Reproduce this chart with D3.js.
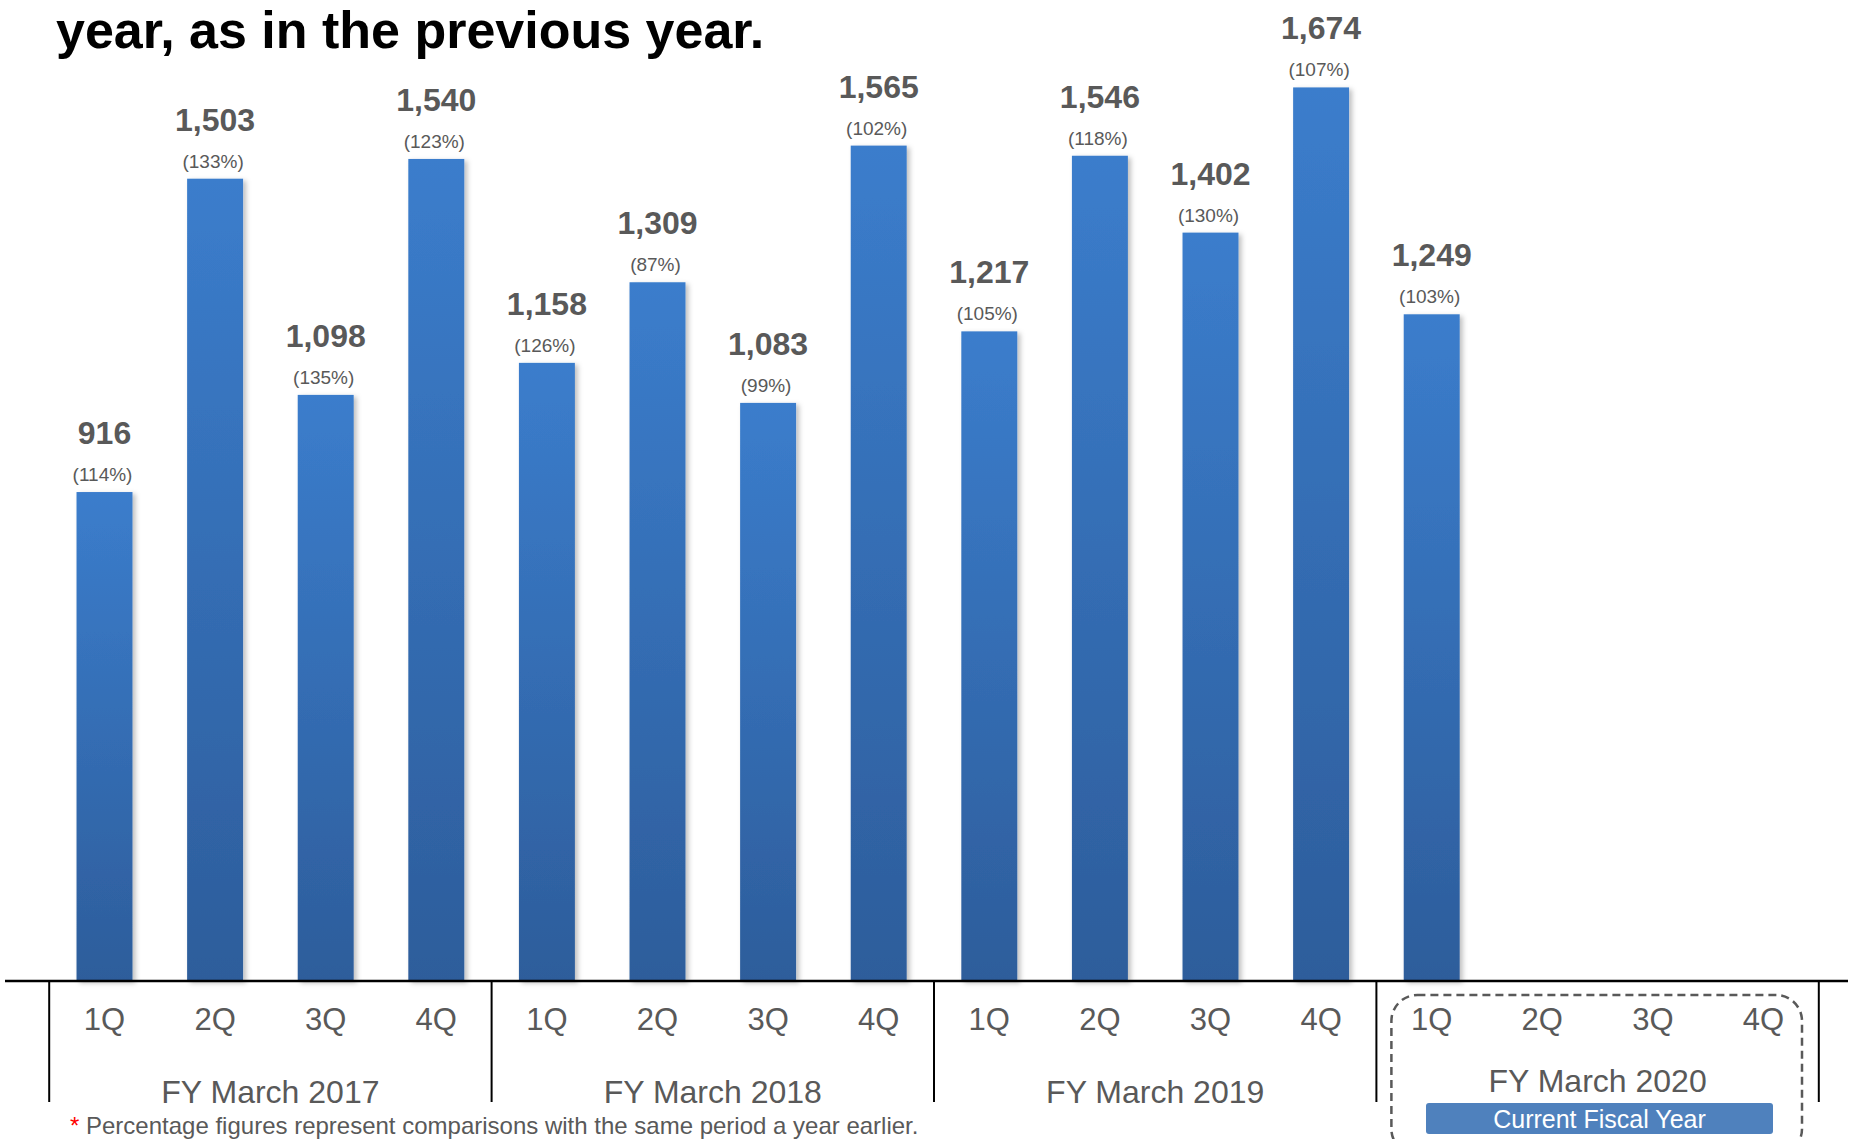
<!DOCTYPE html>
<html>
<head>
<meta charset="utf-8">
<script src="https://cdn.jsdelivr.net/npm/d3@7"></script>
<style>
  body { margin: 0; background: #fff; }
  svg { display: block; font-family: "Liberation Sans", Arial, sans-serif; }
</style>
</head>
<body>
<svg id="chart" width="1854" height="1139"></svg>
<script>
// data
const years = ["FY March 2017", "FY March 2018", "FY March 2019", "FY March 2020"]
const quarters = ["1Q", "2Q", "3Q", "4Q"]
const values = [916, 1503, 1098, 1540, 1158, 1309, 1083, 1565, 1217, 1546, 1402, 1674, 1249]
const ratios = ["114%", "133%", "135%", "123%", "126%", "87%", "99%", "102%", "105%", "118%", "130%", "107%", "103%"]
const title = "year, as in the previous year."
const note = "Percentage figures represent comparisons with the same period a year earlier."
const currentLabel = "Current Fiscal Year"

const svg = d3.select("#chart")
const grey = "#595959"
const base = 981

let slots = []
years.forEach((y, i) => quarters.forEach(q => slots.push({ year: y, q: q, key: i + "-" + q })))

const x = d3.scaleBand()
    .domain(slots.map(d => d.key))
    .range([49.2, 1818.8])
    .paddingInner(0.494)
    .paddingOuter(0.247)

const y = d3.scaleLinear()
    .domain([0, 1800])
    .range([base, base - 0.5338 * 1800])

let bars = values.map((v, i) => ({ v: v, r: ratios[i], key: slots[i].key }))

// defs: gradient + soft shadow
const defs = svg.append("defs")
const grad = defs.append("linearGradient")
    .attr("id", "barGrad")
    .attr("x1", 0).attr("y1", 0).attr("x2", 0).attr("y2", 1)
grad.append("stop").attr("offset", "0%").attr("stop-color", "#3b7dcc")
grad.append("stop").attr("offset", "100%").attr("stop-color", "#2d5d9b")

const shadow = defs.append("filter").attr("id", "shadow")
    .attr("x", "-20%").attr("y", "-5%").attr("width", "150%").attr("height", "115%")
shadow.append("feDropShadow")
    .attr("dx", 3).attr("dy", 2).attr("stdDeviation", 2.5)
    .attr("flood-color", "#000").attr("flood-opacity", 0.25)

// title (second line of a clipped heading)
svg.append("text")
    .attr("x", 56).attr("y", 48)
    .style("font-size", "52px")
    .style("font-weight", "bold")
    .style("fill", "#000")
    .text(title)

// bars
svg.append("g").selectAll("rect")
    .data(bars)
    .join("rect")
    .attr("x", d => x(d.key))
    .attr("y", d => y(d.v))
    .attr("width", x.bandwidth())
    .attr("height", d => y(0) - y(d.v))
    .attr("fill", "url(#barGrad)")
    .attr("filter", "url(#shadow)")

// value labels
const lab = svg.append("g").style("fill", grey).style("text-anchor", "middle")
lab.selectAll("text.val")
    .data(bars)
    .join("text")
    .attr("class", "val")
    .attr("x", d => x(d.key) + x.bandwidth() / 2)
    .attr("y", d => y(d.v) - 48)
    .style("font-size", "32px")
    .style("font-weight", "bold")
    .text(d => d3.format(",")(d.v))

lab.selectAll("text.pct")
    .data(bars)
    .join("text")
    .attr("class", "pct")
    .attr("x", d => x(d.key) + x.bandwidth() / 2 - 2)
    .attr("y", d => y(d.v) - 11)
    .style("font-size", "19px")
    .text(d => "(" + d.r + ")")

// axis line
svg.append("line")
    .attr("x1", 5).attr("x2", 1848)
    .attr("y1", base).attr("y2", base)
    .attr("stroke", "#000").attr("stroke-width", 2.5)

// quarter labels
svg.append("g").selectAll("text")
    .data(slots)
    .join("text")
    .attr("x", d => x(d.key) + x.bandwidth() / 2)
    .attr("y", 1030)
    .style("font-size", "31px")
    .style("fill", grey)
    .style("text-anchor", "middle")
    .text(d => d.q)

// group separators
const step = x.step()
const left = x.range()[0]
svg.append("g").selectAll("line")
    .data(d3.range(years.length + 1))
    .join("line")
    .attr("x1", i => left + i * 4 * step)
    .attr("x2", i => left + i * 4 * step)
    .attr("y1", base).attr("y2", 1102)
    .attr("stroke", "#000").attr("stroke-width", 2)

// year labels
svg.append("g").selectAll("text")
    .data(years)
    .join("text")
    .attr("x", (d, i) => left + (i * 4 + 2) * step)
    .attr("y", (d, i) => i == years.length - 1 ? 1092 : 1103)
    .style("font-size", "32px")
    .style("fill", grey)
    .style("text-anchor", "middle")
    .text(d => d)

// current fiscal year highlight
const gx = left + (years.length - 1) * 4 * step
svg.append("rect")
    .attr("x", gx + 15).attr("y", 995)
    .attr("width", 1802 - gx - 15).attr("height", 160)
    .attr("rx", 26).attr("ry", 26)
    .attr("fill", "none")
    .attr("stroke", grey).attr("stroke-width", 2.5)
    .attr("stroke-dasharray", "8,5")

svg.append("rect")
    .attr("x", 1426).attr("y", 1103)
    .attr("width", 347).attr("height", 31)
    .attr("rx", 3)
    .attr("fill", "#4f81bd")
svg.append("text")
    .attr("x", 1426 + 347 / 2).attr("y", 1128)
    .style("font-size", "25px")
    .style("fill", "#fff")
    .style("text-anchor", "middle")
    .text(currentLabel)

// footnote
const foot = svg.append("text")
    .attr("x", 70).attr("y", 1134)
    .style("font-size", "24px")
    .style("fill", grey)
foot.append("tspan").style("fill", "#ff0000").text("* ")
foot.append("tspan").text(note)
</script>
</body>
</html>
